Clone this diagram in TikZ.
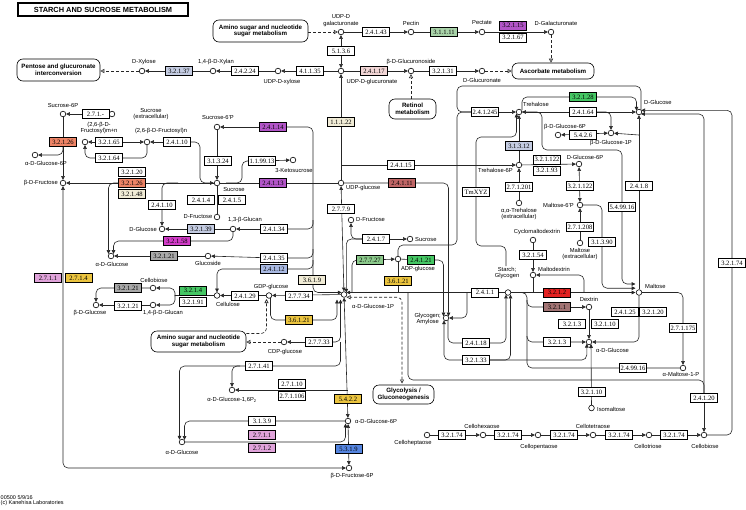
\documentclass[tikz,border=0pt]{standalone}
\usepackage{fontspec}
\setmainfont{Liberation Sans}
\newfontfamily\serifenz{Liberation Serif}
\usetikzlibrary{arrows.meta}
\pgfdeclarelayer{back}
\pgfdeclarelayer{bg}
\pgfsetlayers{back,bg,main}
\newcommand\enzf{\serifenz\fontsize{6.6}{7}\selectfont}
\newcommand\lblf{\fontsize{5.8}{6.3}\selectfont}
\newcommand\mapf{\bfseries\fontsize{6.2}{6.6}\selectfont}
\definecolor{cLB}{HTML}{C4CCE2}
\definecolor{cPK}{HTML}{F2D6D6}
\definecolor{cGG}{HTML}{A9D3A9}
\definecolor{cPU}{HTML}{B255C8}
\definecolor{cBE}{HTML}{F1ECD6}
\definecolor{cOR}{HTML}{EE8466}
\definecolor{cMG}{HTML}{D23CC8}
\definecolor{cGR}{HTML}{A8A8A8}
\definecolor{cBL}{HTML}{A9B9E2}
\definecolor{cPN}{HTML}{E0A3DA}
\definecolor{cYL}{HTML}{EBC43F}
\definecolor{cGN}{HTML}{45C764}
\definecolor{cGM}{HTML}{8BC98B}
\definecolor{cBR}{HTML}{C06666}
\definecolor{cRD}{HTML}{E32222}
\definecolor{cBN}{HTML}{A27474}
\definecolor{cBU}{HTML}{5585E0}
\begin{document}
\begin{tikzpicture}[x=1pt,y=-1pt,
  cp/.style={circle,draw,line width=0.6pt,fill=white,minimum size=5.6pt,inner sep=0pt},
  ez/.style={draw,line width=0.6pt,fill=white,minimum width=27pt,minimum height=9pt,inner sep=0pt,font=\enzf},
  lb/.style={font=\lblf,inner sep=0pt,align=center},
  mp/.style={draw,line width=0.6pt,rounded corners=6pt,fill=white,align=center,font=\mapf,inner sep=0pt},
  ln/.style={line width=0.6pt,draw=black!85},
  ar/.style={-{Triangle[length=3.8pt,width=3.6pt]}},
  ar2/.style={{Triangle[length=3.8pt,width=3.6pt]}-{Triangle[length=3.8pt,width=3.6pt]}},
  oa/.style={-{Triangle[open,length=4pt,width=4pt]}},
  oa2/.style={{Triangle[open,length=4pt,width=4pt]}-{Triangle[open,length=4pt,width=4pt]}},
  dsh/.style={dash pattern=on 3pt off 2pt},
  rc/.style={rounded corners=5pt}]
\begin{pgfonlayer}{back}
\fill[white] (0,0) rectangle (746,509);
\end{pgfonlayer}
\useasboundingbox (0,0) rectangle (746,509);

% title and maps
\node[draw,line width=1.1pt,minimum width=170pt,minimum height=13pt,inner sep=0pt,font=\bfseries\fontsize{7.4}{8}\selectfont] (title) at (103,9.5) {STARCH AND SUCROSE METABOLISM};
\node[mp,minimum width=83pt,minimum height=22pt] (pentose) at (58.5,70) {Pentose and glucuronate\\interconversion};
\node[mp,minimum width=95pt,minimum height=22pt] (amino1) at (260.5,31) {Amino sugar and nucleotide\\sugar metabolism};
\node[mp,minimum width=47pt,minimum height=20pt] (retinol) at (412.5,109) {Retinol\\metabolism};
\node[mp,minimum width=82pt,minimum height=16pt] (ascorbate) at (553,71) {Ascorbate metabolism};
\node[mp,minimum width=95pt,minimum height=21pt] (amino2) at (198.5,341.5) {Amino sugar and nucleotide\\sugar metabolism};
\node[mp,minimum width=61pt,minimum height=19pt] (glycolysis) at (403.5,394.5) {Glycolysis /\\Gluconeogenesis};
\node[lb,anchor=west,font=\fontsize{5.5}{6}\selectfont] (foot1) at (0.5,497.5) {00500 5/9/16};
\node[lb,anchor=west,font=\fontsize{5.5}{6}\selectfont] (foot2) at (0.5,503.5) {(c) Kanehisa Laboratories};

% compounds
\node[cp] (xyl) at (142,71) {};
\node[cp] (xylan) at (213,71) {};
\node[cp] (udpxyl) at (278,71) {};
\node[cp] (udpgla) at (341,32) {};
\node[cp] (udpgcu) at (341,71) {};
\node[cp] (pectin) at (411,32) {};
\node[cp] (pectate) at (482,32) {};
\node[cp] (dgalu) at (551,32) {};
\node[cp] (glcuro) at (411,71) {};
\node[cp] (dglcu) at (482,71) {};
\node[cp] (suc6p) at (63,114) {};
\node[cp] (sucex) at (112,114) {};
\node[cp] (fruc1) at (85,142) {};
\node[cp] (fruc2) at (147,142) {};
\node[cp] (ag6pl) at (35,155) {};
\node[cp] (bfru) at (63,183) {};
\node[cp] (suc6pp) at (217,127) {};
\node[cp] (suc) at (217,183) {};
\node[cp] (ketosuc) at (293,160) {};
\node[cp] (dfru1) at (217,217) {};
\node[cp] (glcan13) at (233,229) {};
\node[cp] (dglc1) at (162,229) {};
\node[cp] (aglc1) at (111,256) {};
\node[cp] (glucoside) at (208,256) {};
\node[cp] (cellobiose1) at (153,288) {};
\node[cp] (glucan14) at (153,305) {};
\node[cp] (bglc) at (96,305) {};
\node[cp] (cellulose) at (217,295.5) {};
\node[cp] (gdpglc) at (269,295.5) {};
\node[cp] (ag1p) at (344,294.5) {};
\node[cp] (udpglc) at (341,183) {};
\node[cp] (dfru2) at (351,220) {};
\node[cp] (suc2) at (410,239) {};
\node[cp] (adpglc) at (398,259) {};
\node[cp] (glycogen) at (446,318) {};
\node[cp] (starch) at (508,292.5) {};
\node[cp] (treh) at (519,112) {};
\node[cp] (treh6p) at (519,165) {};
\node[cp] (trehex) at (519,203) {};
\node[cp] (dglc6p) at (579,164) {};
\node[cp] (malt6p) at (580,205) {};
\node[cp] (maltex) at (580,243) {};
\node[cp] (bg6p) at (558,135) {};
\node[cp] (bg1p) at (611,133) {};
\node[cp] (dglc) at (639,112) {};
\node[cp] (maltose) at (639,292.5) {};
\node[cp] (cyclo) at (533,240) {};
\node[cp] (maltodex) at (533,275) {};
\node[cp] (dextrin) at (589,307) {};
\node[cp] (aglc2) at (589,342) {};
\node[cp] (isomalt) at (591.5,408) {};
\node[cp] (amalt1p) at (683,368) {};
\node[cp] (cdpglc) at (284,342) {};
\node[cp] (ag16p) at (232,390) {};
\node[cp] (aglc3) at (182,442) {};
\node[cp] (ag6p) at (348,421) {};
\node[cp] (bf6p) at (349,468) {};
\node[cp] (cello7) at (427,435) {};
\node[cp] (cello6) at (483,435) {};
\node[cp] (cello5) at (538,435) {};
\node[cp] (cello4) at (593,435) {};
\node[cp] (cello3) at (649,435) {};
\node[cp] (cello2) at (704,435) {};

% compound labels
\node[lb] (l1) at (144,62) {D-Xylose};
\node[lb] (l2) at (216,62) {1,4-β-D-Xylan};
\node[lb] (l3) at (282,82) {UDP-D-xylose};
\node[lb] (l4) at (341,20.5) {UDP-D\\galacturonate};
\node[lb] (l5) at (411,23) {Pectin};
\node[lb] (l6) at (482,23) {Pectate};
\node[lb] (l7) at (556,23) {D-Galacturonate};
\node[lb] (l8) at (411,62) {β-D-Glucuronoside};
\node[lb] (l9) at (482,80) {D-Glucuronate};
\node[lb] (l10) at (372,82) {UDP-D-glucuronate};
\node[lb] (l11) at (63,105) {Sucrose-6P};
\node[lb] (l12) at (151,114) {Sucrose\\(extracellular)};
\node[lb] (l13) at (99,128) {(2,6-β-D-\\Fructosyl)m+n};
\node[lb] (l14) at (161,131) {(2,6-β-D-Fructosyl)n};
\node[lb] (l15) at (46,163) {α-D-Glucose-6P};
\node[lb,anchor=east] (l16) at (58,183) {β-D-Fructose};
\node[lb] (l17) at (218,117) {Sucrose-6'P};
\node[lb] (l18) at (234,189.5) {Sucrose};
\node[lb] (l19) at (294,170) {3-Ketosucrose};
\node[lb,anchor=east] (l20) at (212.5,217) {D-Fructose};
\node[lb] (l21) at (245,220) {1,3-β-Glucan};
\node[lb,anchor=east] (l22) at (157,229) {D-Glucose};
\node[lb] (l23) at (112,264) {α-D-Glucose};
\node[lb] (l24) at (208,263.5) {Glucoside};
\node[lb] (l25) at (154,280) {Cellobiose};
\node[lb] (l26) at (90,313) {β-D-Glucose};
\node[lb] (l27) at (163,313) {1,4-β-D-Glucan};
\node[lb] (l28) at (228,304.5) {Cellulose};
\node[lb] (l29) at (271,287) {GDP-glucose};
\node[lb,anchor=west] (l30) at (346,187.5) {UDP-glucose};
\node[lb,anchor=west] (l31) at (356,220) {D-Fructose};
\node[lb,anchor=west] (l32) at (352,306) {α-D-Glucose-1P};
\node[lb,anchor=west] (l33) at (415,239) {Sucrose};
\node[lb] (l34) at (418,269) {ADP-glucose};
\node[lb,anchor=east] (l35) at (441,319) {Glycogen;\\Amylose};
\node[lb] (l36) at (507,273) {Starch;\\Glycogen};
\node[lb,anchor=west] (l37) at (523,104.5) {Trehalose};
\node[lb,anchor=east] (l38) at (513,170.5) {Trehalose-6P};
\node[lb] (l39) at (519,214) {α,α-Trehalose\\(extracellular)};
\node[lb] (l40) at (565,127) {β-D-Glucose-6P};
\node[lb] (l41) at (611,143) {β-D-Glucose-1P};
\node[lb,anchor=west] (l42) at (644,102) {D-Glucose};
\node[lb] (l43) at (585,157) {D-Glucose-6P};
\node[lb,anchor=east] (l44) at (574,205) {Maltose-6'P};
\node[lb] (l45) at (580,254) {Maltose\\(extracellular)};
\node[lb,anchor=west] (l46) at (645,286) {Maltose};
\node[lb] (l47) at (537,232) {Cyclomaltodextrin};
\node[lb,anchor=west] (l48) at (538,269) {Maltodextrin};
\node[lb] (l49) at (589,299) {Dextrin};
\node[lb,anchor=west] (l50) at (596,350) {α-D-Glucose};
\node[lb,anchor=west] (l51) at (597,409) {Isomaltose};
\node[lb] (l52) at (681,374.5) {α-Maltose-1-P};
\node[lb] (l53) at (413,443) {Celloheptaose};
\node[lb] (l54) at (482,426) {Cellohexaose};
\node[lb] (l55) at (539,447) {Cellopentaose};
\node[lb] (l56) at (593,426) {Cellotetraose};
\node[lb] (l57) at (648,446) {Cellotriose};
\node[lb] (l58) at (705,446) {Cellobiose};
\node[lb] (l59) at (285,352) {CDP-glucose};
\node[lb] (l60) at (232,399.5) {α-D-Glucose-1,6P\textsubscript{2}};
\node[lb] (l61) at (182,452.5) {α-D-Glucose};
\node[lb,anchor=west] (l62) at (355,421) {α-D-Glucose-6P};
\node[lb] (l63) at (352,476) {β-D-Fructose-6P};

% enzymes
\node[ez,fill=cLB] (e32137) at (179,71) {3.2.1.37};
\node[ez] (e24224) at (245,71) {2.4.2.24};
\node[ez] (e41135) at (310,71) {4.1.1.35};
\node[ez] (e5136) at (341,51) {5.1.3.6};
\node[ez] (e24143) at (376,32) {2.4.1.43};
\node[ez,fill=cGG] (e31111) at (444,32) {3.1.1.11};
\node[ez,fill=cPU] (e32115) at (513,25.5) {3.2.1.15};
\node[ez] (e32167) at (513,37.5) {3.2.1.67};
\node[ez,fill=cPK] (e24117) at (374,71) {2.4.1.17};
\node[ez] (e32131) at (443,71) {3.2.1.31};
\node[ez,fill=cBE] (e11122) at (341,122) {1.1.1.22};
\node[ez] (e271m) at (95.5,114) {2.7.1.-};
\node[ez,fill=cOR] (e32126a) at (63,142) {3.2.1.26};
\node[ez] (e32165) at (109,142) {3.2.1.65};
\node[ez] (e32164) at (109,158) {3.2.1.64};
\node[ez] (e24110a) at (177,142) {2.4.1.10};
\node[ez] (e32120a) at (132,172) {3.2.1.20};
\node[ez,fill=cOR] (e32126b) at (132,183) {3.2.1.26};
\node[ez,fill=cBE] (e32148) at (132,194) {3.2.1.48};
\node[ez] (e24110b) at (162,205) {2.4.1.10};
\node[ez,fill=cPU] (e24114) at (273,127) {2.4.1.14};
\node[ez] (e31324) at (218,161) {3.1.3.24};
\node[ez] (e119913) at (262,161) {1.1.99.13};
\node[ez,fill=cPU] (e24113) at (273,183) {2.4.1.13};
\node[ez] (e2414) at (201,200) {2.4.1.4};
\node[ez] (e2415) at (232,200) {2.4.1.5};
\node[ez,fill=cLB] (e32139) at (201,229) {3.2.1.39};
\node[ez] (e24134) at (274,229) {2.4.1.34};
\node[ez,fill=cMG] (e32158) at (177,241) {3.2.1.58};
\node[ez,fill=cGR] (e32121a) at (164,256) {3.2.1.21};
\node[ez] (e24135) at (274,258) {2.4.1.35};
\node[ez,fill=cBL] (e24112) at (274,269) {2.4.1.12};
\node[ez,fill=cBE] (e3619) at (312,280) {3.6.1.9};
\node[ez] (e2779) at (341,209) {2.7.7.9};
\node[ez] (e2417) at (376,239) {2.4.1.7};
\node[ez,fill=cGM] (e27727) at (370,260) {2.7.7.27};
\node[ez,fill=cGN] (e24121) at (421,260) {2.4.1.21};
\node[ez,fill=cYL] (e36121a) at (398,281) {3.6.1.21};
\node[ez,fill=cBR] (e24111) at (402,183) {2.4.1.11};
\node[ez] (e24115) at (401,165) {2.4.1.15};
\node[ez,fill=cPN] (e2711a) at (48,278) {2.7.1.1};
\node[ez,fill=cYL] (e2714) at (78.5,278) {2.7.1.4};
\node[ez,fill=cGR] (e32121b) at (128,288) {3.2.1.21};
\node[ez] (e32121c) at (128,306) {3.2.1.21};
\node[ez,fill=cGN] (e3214) at (193,290.5) {3.2.1.4};
\node[ez] (e32191) at (193,302) {3.2.1.91};
\node[ez] (e24129) at (245,296) {2.4.1.29};
\node[ez] (e27734) at (299,296) {2.7.7.34};
\node[ez,fill=cYL] (e36121b) at (299,320) {3.6.1.21};
\node[ez] (e27733) at (319,342) {2.7.7.33};
\node[ez] (e27141) at (259,366) {2.7.1.41};
\node[ez] (e27110) at (292,384) {2.7.1.10};
\node[ez] (e271106) at (292,396) {2.7.1.106};
\node[ez] (e3139) at (262,421) {3.1.3.9};
\node[ez,fill=cPN] (e2711b) at (262,435) {2.7.1.1};
\node[ez,fill=cPN] (e2712) at (262,448) {2.7.1.2};
\node[ez,fill=cYL] (e5422) at (348,399) {5.4.2.2};
\node[ez,fill=cBU] (e5319) at (348.5,449) {5.3.1.9};
\node[ez] (e241245) at (485,112) {2.4.1.245};
\node[ez] (tmxyz) at (476,192) {TmXYZ};
\node[ez,fill=cLB] (e31312) at (519,146) {3.1.3.12};
\node[ez] (e271201) at (519,187) {2.7.1.201};
\node[ez] (e321122a) at (547,159.5) {3.2.1.122};
\node[ez] (e32193) at (547,170.5) {3.2.1.93};
\node[ez,fill=cGN] (e32128) at (583,97) {3.2.1.28};
\node[ez] (e24164) at (583,112) {2.4.1.64};
\node[ez] (e5426) at (583,135) {5.4.2.6};
\node[ez] (e321122b) at (580,186) {3.2.1.122};
\node[ez] (e271208) at (580,227) {2.7.1.208};
\node[ez] (e31390) at (602,242) {3.1.3.90};
\node[ez] (e549916) at (622,207) {5.4.99.16};
\node[ez] (e2418) at (639,186) {2.4.1.8};
\node[ez] (e2411) at (485,292.5) {2.4.1.1};
\node[ez,fill=cRD] (e3212) at (557,292.5) {3.2.1.2};
\node[ez,fill=cBN] (e3211) at (557,307) {3.2.1.1};
\node[ez] (e32154) at (533,255) {3.2.1.54};
\node[ez] (e3213a) at (572,324) {3.2.1.3};
\node[ez] (e32110a) at (605,324) {3.2.1.10};
\node[ez] (e3213b) at (557,342) {3.2.1.3};
\node[ez] (e24125) at (625,312) {2.4.1.25};
\node[ez] (e32120b) at (653,312) {3.2.1.20};
\node[ez] (e271175) at (683,328) {2.7.1.175};
\node[ez] (e249916) at (633,368) {2.4.99.16};
\node[ez] (e32110b) at (591.5,392) {3.2.1.10};
\node[ez] (e24120) at (704,398) {2.4.1.20};
\node[ez] (e24118) at (476,343) {2.4.1.18};
\node[ez] (e32133) at (476,360) {3.2.1.33};
\node[ez] (e32174r) at (732,263) {3.2.1.74};
\node[ez] (e32174a) at (452,435) {3.2.1.74};
\node[ez] (e32174b) at (508,435) {3.2.1.74};
\node[ez] (e32174c) at (564,435) {3.2.1.74};
\node[ez] (e32174d) at (619,435) {3.2.1.74};
\node[ez] (e32174e) at (674,435) {3.2.1.74};

% connectors
\begin{pgfonlayer}{bg}
\draw[ln,oa,dsh] (xyl) -- (pentose.east |- xyl);
\draw[ln,ar] (e32137) -- (xyl);
\draw[ln] (xylan) -- (e32137);
\draw[ln,ar] (udpxyl) -- (xylan);
\draw[ln,ar] (udpgcu) -- (udpxyl);
\draw[ln,oa,dsh] (amino1.east |- udpgla) -- (udpgla);
\draw[ln,ar2] (udpgla) -- (udpgcu);
\draw[ln,ar] (udpgla) -- (pectin);
\draw[ln,ar] (pectin) -- (pectate);
\draw[ln,ar] (pectate) -- (dgalu);
\draw[ln,oa,dsh] (dgalu) -- (dgalu |- ascorbate.north);
\draw[ln,ar] (udpgcu) -- (glcuro);
\draw[ln,ar] (glcuro) -- (dglcu);
\draw[ln,oa,dsh] (dglcu) -- (ascorbate.west |- dglcu);
\draw[ln,oa,dsh] (glcuro |- retinol.north) -- (glcuro);
\draw[ln,ar] (udpglc) -- (udpgcu);
% left
\draw[ln,ar] (sucex) -- (suc6p);
\draw[ln,ar] (suc6p) -- (bfru);
\draw[ln,ar,rc] (63,147) |- (ag6pl);
\draw[ln,ar2] (fruc1) -- (fruc2);
\draw[ln,ar,rc] (fruc2.south) -- (147,158) -- (85,158) -- (fruc1.south);
\draw[ln,ar] (e24110a) -- (fruc2);
\draw[ln,ar,rc] (e24110a.east) -- (200,142) -- (200,183) -- (suc.west);
\draw[ln,ar] (suc) -- (bfru);
\draw[ln,ar,rc] (118,183) -- (108.5,183) -- (108.5,253.8);
\draw[ln,ar,rc] (e32158.west) -- (113.5,241) -- (113.5,253.8);
\draw[ln,rc] (glcan13.south) |- (e32158.east);
\draw[ln,ar,rc] (178,183) -| (dglc1.north);
\draw[ln,ar] (glcan13) -- (dglc1);
\draw[ln,ar] (suc6pp) -- (suc);
\draw[ln,ar] (e24114) -- (suc6pp);
\draw[ln,rc] (e24114.east) -- (313,127) -- (313,183);
\draw[ln] (suc) -- (udpglc);
\draw[ln,rc] (226,183) -- (242,183) -- (242,161) -- (e119913.west);
\draw[ln,ar] (e119913) -- (ketosuc);
\draw[ln] (suc) -- (dfru1);
\draw[ln,ar,rc] (313,183) -- (313,292.5) -- (341.6,292.5);
\draw[ln,rc] (e24134.east) -- (313,229) -- (313,220);
\draw[ln,ar] (e24134) -- (glcan13);
\draw[ln,rc] (e24135.east) -- (313,258) -- (313,249);
\draw[ln,ar] (e24135) -- (glucoside);
\draw[ln,rc] (e24112.east) -- (313,269) -- (313,260);
\draw[ln,ar,rc] (e24112.west) -| (cellulose.north);
\draw[ln,ar] (glucoside) -- (aglc1);
\draw[ln,ar] (gdpglc) -- (cellulose);
\draw[ln,ar] (ag1p) -- (gdpglc);
\draw[ln,ar,rc] (270.5,298) -- (270.5,320) -- (337,320) -- (337,299.5);
\draw[ln,ar,rc] (e27733.east) -- (340.5,342) -- (340.5,299.5);
\draw[ln,ar] (e27733) -- (cdpglc);
\draw[ln,oa,dsh] (cdpglc) -- (amino2.east |- cdpglc);
\draw[ln,oa,dsh,rc] (amino2.east |- 0,333.5) -- (266.5,333.5) -- (266.5,299);
\draw[ln,ar2] (udpglc) -- (ag1p);
\draw[ln,ar] (e2417) -- (suc2);
\draw[ln,ar,rc] (e2417.west) -| (dfru2.south);
\draw[ln,ar,rc] (e2417.west) -- (346.3,239) -- (346.3,292.6);
\draw[ln,ar] (e27727) -- (adpglc);
\draw[ln,rc] (e27727.west) -- (352,260) -- (352,292.5);
\draw[ln] (adpglc) -- (e24121);
\draw[ln,ar,rc] (e24121.east) -- (443.5,260) -- (443.5,316.3);
\draw[ln,ar,rc] (udpglc.east) -- (448.5,183) -- (448.5,316.3);
\draw[ln] (adpglc.south) -- (398,292.5);
\draw[ln,ar] (starch.west) -- (346.4,292.5);
\draw[ln,ar,rc] (467,292.5) -- (467,318) -- (glycogen.east);
\draw[ln,ar] (e241245) -- (treh);
\draw[ln,rc] (e241245.west) -- (457,112) -- (457,86) -- (641,86) -- (641,109.6);
\draw[ln,rc] (e241245.west) -- (457,112) -- (457,245) -- (398,245) -- (adpglc.north);
\draw[ln,rc] (522,110) -- (522,97) -- (e32128.west);
\draw[ln,ar,rc] (e32128.east) -- (636.5,97) -- (636.5,110.6);
\draw[ln,ar,rc] (506,266) -- (506,246) -- (476,246) -- (476,137) -- (516.5,137) -- (516.5,113.5);
\draw[ln,ar] (treh6p) -- (treh);
\draw[ln,ar] (341,165) -- (treh6p);
\draw[ln,ar] (trehex) -- (treh6p);
\draw[ln,ar] (treh6p) -- (dglc6p);
\draw[ln,ar2] (dglc6p) -- (malt6p);
\draw[ln,ar] (maltex) -- (malt6p);
\draw[ln,ar,rc] (malt6p.east) -- (602,205) -- (602,288.2) -- (635.5,288.2);
\draw[ln,ar,rc] (treh.east) -- (542,112) -- (542,150) -- (622,150) -- (622,284) -- (635.5,284);
\draw[ln,ar2] (treh) -- (dglc);
\draw[ln,ar,rc] (e24164.east) -| (bg1p.north);
\draw[ln,ar2] (bg6p) -- (bg1p);
\draw[ln,ar] (639,135) -- (bg1p);
\draw[ln,ar] (maltose) -- (dglc);
\draw[ln,ar,rc] (cello2.east) -- (732,435) -- (732,110.3) -- (641.2,110.3);
\draw[ln,ar,rc] (e24120.north) -- (704,114) -- (641,114);
\draw[ln,ar] (e24120) -- (cello2);
\draw[ln,rc] (408,292.5) -- (408,380) -- (704,380) -- (704,393.5);
\draw[ln] (cello7) -- (e32174a);
\draw[ln,ar] (e32174a) -- (cello6);
\draw[ln,ar] (cello6) -- (cello5);
\draw[ln,ar] (cello5) -- (cello4);
\draw[ln,ar] (cello4) -- (cello3);
\draw[ln,ar] (cello3) -- (cello2);
\draw[ln,ar,rc] (maltose.south) -- (639,342) -- (aglc2.east);
\draw[ln,ar,rc] (maltose.east) -- (683,292.5) -- (amalt1p.north);
\draw[ln,ar] (isomalt) -- (591,344);
\draw[ln,ar] (dextrin) -- (aglc2);
\draw[ln,ar] (e3211) -- (dextrin);
\draw[ln,rc] (starch.east) -- (527,292.5) -- (527,368) -- (amalt1p.west);
\draw[ln,rc] (527,300) -- (527,307) -- (e3211.west);
\draw[ln,ar,rc] (527,336) -- (527,342) -- (aglc2.west);
\draw[ln,ar] (cyclo) -- (maltodex);
\draw[ln,ar,rc] (584,292.5) -- (584,275) -- (maltodex.east);
\draw[ln] (maltodex.south) -- (533,292.5);
\draw[ln,ar] (starch.east) -- (635.5,292.5);
\draw[ln,ar,rc] (448,320) -- (448,343) -- (506,343) -- (506,294.6);
\draw[ln,ar2,rc] (444,320.3) -- (444,360) -- (586.8,360) -- (586.8,343.8);
\draw[ln,ar,rc] (480,360) -- (510.5,360) -- (510.5,294.6);
\draw[ln,oa2,dsh,rc] (402,383.5) -- (402,297.2) -- (346.5,297.2);
% bottom left
\draw[ln,ar2,rc] (bfru.south) -- (63,468) -- (bf6p.west);
\draw[ln,ar,rc] (340.5,342) -- (340.5,366) -- (179.5,366) -- (179.5,439.7);
\draw[ln,ar,rc] (240,366) -- (232,366) -- (ag16p.north);
\draw[ln,ar] (348,390) -- (ag16p.east);
\draw[ln,ar2] (ag1p) -- (ag6p);
\draw[ln,ar,rc] (ag6p.west) -- (184.5,421) -- (184.5,439.8);
\draw[ln,ar,rc] (aglc3.east) -- (345.5,442) -- (345.5,423.5);
\draw[ln,ar2] (ag6p) -- (bf6p);
\draw[ln,ar,rc] (cellobiose1.west) -| (bglc.north);
\draw[ln,ar] (glucan14) -- (bglc);
\draw[ln] (cellulose.west) -- (175,295.5);
\draw[ln,ar,rc] (175,296) -- (175,288) -- (cellobiose1.east);
\draw[ln,ar,rc] (175,295) -- (175,305) -- (glucan14.east);
\end{pgfonlayer}
\end{tikzpicture}
\end{document}
